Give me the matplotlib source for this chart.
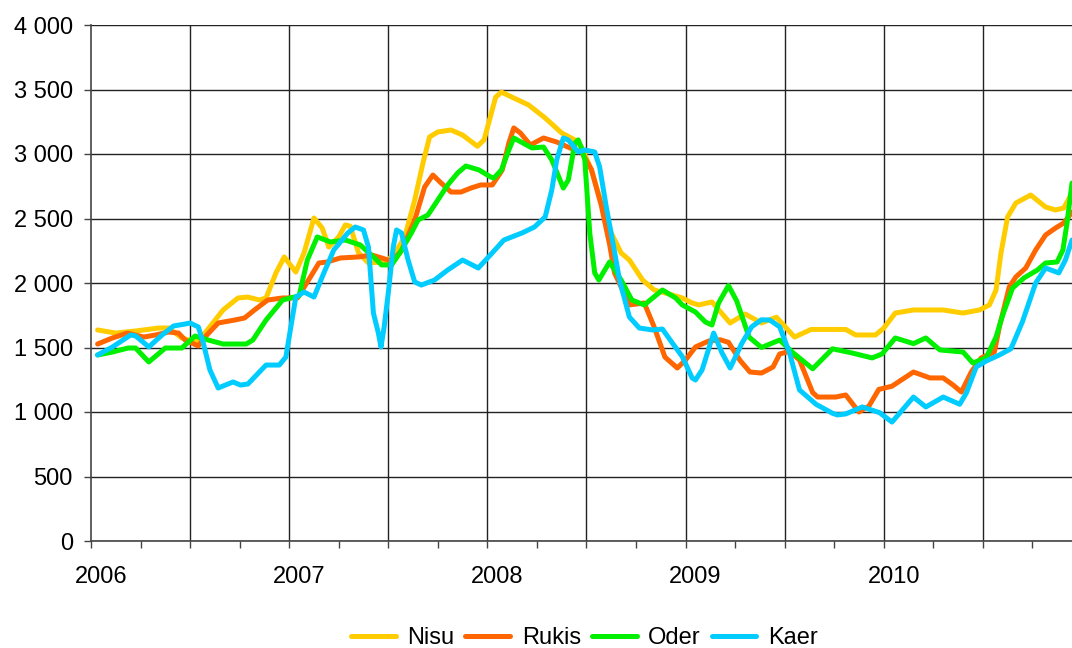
import numpy as np
import matplotlib
matplotlib.use('Agg')
from matplotlib import pyplot as plt
from matplotlib.ticker import FuncFormatter, MultipleLocator

plt.rcParams['font.family'] = ['Liberation Sans', 'DejaVu Sans']

# months since Jan 2006, price values
nisu_m = [0.4, 1.5, 2.7, 4.1, 4.7, 5.5, 6.3, 6.9, 8.0, 8.9, 9.5, 10.2, 10.6, 11.2, 11.7, 12.4,
          12.9, 13.5, 14.0, 14.4, 15.0, 15.4, 15.7, 16.2, 16.8, 17.6, 18.0, 18.4, 19.0, 19.6,
          20.1, 20.5, 21.0, 21.8, 22.5, 23.4, 23.8, 24.1, 24.5, 24.85, 25.6, 26.5, 27.5, 28.5,
          29.3, 29.7, 30.3, 30.9, 31.5, 32.1, 32.6, 33.4, 34.1, 35.2, 35.8, 36.4, 36.8, 37.6,
          38.7, 39.6, 40.6, 41.5, 42.6, 43.6, 45.7, 46.3, 47.5, 48.0, 48.7, 49.8, 51.6, 52.8,
          53.8, 54.4, 54.8, 55.1, 55.5, 56.0, 56.9, 57.8, 58.4, 58.9, 59.4]
nisu_v = [1636, 1612, 1628, 1651, 1651, 1574, 1543, 1612, 1791, 1884, 1891, 1868, 1884, 2078, 2202, 2085,
          2233, 2504, 2426, 2279, 2357, 2450, 2440, 2233, 2155, 2163, 2178, 2233, 2357, 2643,
          2930, 3132, 3171, 3186, 3147, 3060, 3110, 3250, 3440, 3480, 3434, 3380, 3279, 3163,
          3109, 3054, 2876, 2620, 2388, 2233, 2178, 2023, 1946, 1907, 1884, 1845, 1830, 1853,
          1690, 1760, 1690, 1735, 1581, 1640, 1640, 1597, 1597, 1650, 1767, 1791, 1791, 1767,
          1791, 1830, 1946, 2233, 2512, 2620, 2682, 2589, 2566, 2581, 2698]

rukis_m = [0.4, 1.3, 2.2, 3.2, 3.9, 4.7, 5.3, 5.7, 6.5, 6.9, 7.7, 8.7, 9.3, 9.9, 10.7, 11.6, 12.5,
           13.1, 13.8, 14.3, 15.1, 16.2, 17.0, 17.6, 18.2, 18.8, 19.6, 20.2, 20.7, 21.2, 21.8,
           22.4, 23.0, 23.6, 24.3, 24.9, 25.3, 25.6, 26.0, 26.6, 27.4, 28.2, 29.0, 29.7, 30.3,
           30.9, 31.4, 31.7, 32.1, 32.6, 33.5, 34.1, 34.75, 35.5, 36.0, 36.6, 37.4, 38.1, 38.6,
           39.3, 39.9, 40.6, 41.3, 41.7, 42.3, 42.9, 43.7, 44.0, 45.1, 45.7, 46.5, 47.1, 47.7,
           48.5, 49.8, 50.8, 51.6, 52.2, 52.7, 53.3, 53.9, 54.7, 55.0, 55.6, 56.0, 56.6, 57.2,
           57.8, 58.4, 58.9, 59.4]
rukis_v = [1527, 1574, 1612, 1581, 1597, 1620, 1612, 1558, 1512, 1581, 1690, 1713, 1729, 1791, 1868, 1884, 1884,
           2008, 2155, 2163, 2194, 2202, 2217, 2194, 2170, 2250, 2488, 2744, 2837, 2775, 2705,
           2705, 2736, 2760, 2760, 2876, 3085, 3202, 3163, 3070, 3124, 3093, 3047, 3016, 2880,
           2600, 2300, 2078, 1969, 1830, 1845, 1659, 1426, 1341, 1403, 1504, 1550, 1560, 1540,
           1400, 1310, 1302, 1349, 1450, 1470, 1403, 1150, 1116, 1116, 1132, 1000, 1045, 1175,
           1200, 1310, 1264, 1264, 1209, 1155, 1310, 1419, 1465, 1659, 1969, 2047, 2116, 2256,
           2372, 2426, 2465, 2550]

oder_m = [0.4, 1.3, 2.25, 2.7, 3.5, 4.5, 5.5, 6.3, 7.1, 8.0, 9.4, 9.8, 10.6, 11.6, 12.3, 12.6,
          13.1, 13.7, 14.5, 15.4, 16.3, 17.1, 17.6, 18.2, 18.7, 19.4, 19.8, 20.4, 21.0, 21.6,
          22.2, 22.7, 23.5, 24.2, 24.4, 24.85, 25.3, 25.6, 26.7, 27.4, 27.9, 28.6, 28.9, 29.3,
          29.5, 29.7, 29.9, 30.2, 30.5, 30.75, 31.4, 32.1, 32.75, 33.5, 34.6, 35.4, 35.8, 36.6,
          37.2, 37.6, 38.0, 38.6, 39.1, 39.85, 40.6, 41.7, 42.5, 43.7, 44.9, 46.1, 47.3, 47.9,
          48.7, 49.8, 50.55, 51.4, 52.8, 53.4, 54.2, 54.8, 55.2, 55.8, 56.5, 57.3, 57.8, 58.5,
          58.85, 59.1, 59.4]
oder_v = [1442, 1465, 1496, 1496, 1388, 1496, 1496, 1589, 1558, 1527, 1527, 1558, 1713, 1868, 1891, 1900,
          2178, 2357, 2318, 2333, 2295, 2202, 2140, 2140, 2233, 2388, 2488, 2527, 2643, 2760,
          2853, 2907, 2876, 2822, 2814, 2876, 3031, 3124, 3047, 3054, 2954, 2736, 2798, 3085,
          3109, 3047, 2954, 2388, 2078, 2023, 2163, 2023, 1868, 1830, 1946, 1884, 1830, 1775,
          1698, 1674, 1845, 1980, 1860, 1580, 1500, 1558, 1460, 1335, 1490, 1457, 1419, 1450,
          1574, 1530, 1574, 1481, 1465, 1380, 1420, 1581, 1750, 1961, 2040, 2100, 2155, 2163,
          2256, 2465, 2775]

kaer_m = [0.4, 1.3, 2.4, 2.7, 3.5, 4.3, 5.0, 5.7, 6.0, 6.5, 6.8, 7.2, 7.7, 8.6, 9.05, 9.5, 10.6,
          11.4, 11.8, 12.1, 12.4, 12.9, 13.5, 14.1, 14.7, 15.55, 16.0, 16.5, 16.8, 17.1, 17.4,
          17.56, 17.75, 18.0, 18.3, 18.5, 18.8, 19.2, 19.6, 20.0, 20.8, 21.6, 22.5, 23.45, 24.2,
          25.0, 26.1, 26.85, 27.5, 27.9, 28.2, 28.6, 28.9, 29.5, 29.9, 30.5, 30.8, 31.2, 31.65,
          32.0, 32.6, 33.2, 34.0, 34.6, 35.2, 35.8, 36.4, 36.6, 37.0, 37.7, 38.2, 38.7, 39.4,
          40.0, 40.6, 41.1, 41.7, 42.3, 42.9, 43.9, 44.9, 45.2, 45.7, 46.7, 47.75, 48.5, 49.8,
          50.55, 51.6, 52.6, 53.0, 53.6, 54.2, 55.0, 55.7, 56.4, 57.2, 57.8, 58.6, 59.0, 59.4]
kaer_v = [1442, 1504, 1597, 1590, 1504, 1597, 1667, 1682, 1690, 1659, 1535, 1326, 1186, 1233, 1209, 1217, 1364,
          1364, 1426, 1659, 1891, 1930, 1891, 2078, 2256, 2388, 2434, 2411, 2279, 1767, 1612,
          1504, 1659, 1922, 2279, 2411, 2388, 2178, 2008, 1984, 2023, 2101, 2178, 2116, 2220,
          2333, 2388, 2434, 2512, 2721, 2954, 3124, 3109, 3016, 3031, 3016, 2899, 2589, 2279,
          2023, 1736, 1651, 1636, 1643, 1535, 1430, 1264, 1248, 1326, 1612, 1460, 1341, 1530,
          1660, 1715, 1713, 1660, 1457, 1171, 1060, 990, 977, 985, 1039, 995, 922, 1116,
          1039, 1116, 1060, 1147, 1349, 1395, 1442, 1490, 1700, 2000, 2116, 2078, 2178, 2333]

series = [('Nisu', nisu_m, nisu_v, '#FFCC00'),
          ('Rukis', rukis_m, rukis_v, '#FF6600'),
          ('Oder', oder_m, oder_v, '#00F000'),
          ('Kaer', kaer_m, kaer_v, '#00CCFF')]
years = [2006, 2007, 2008, 2009, 2010]

fig = plt.figure(figsize=(10.72, 6.48), dpi=100)
ax = fig.add_axes((91 / 1072, 1 - 541 / 648, 1 - 91 / 1072, 516 / 648))

for name, m, v, color in series:
    ax.plot(m, v, color=color, lw=3.6, label=name, solid_capstyle='round', solid_joinstyle='round')

ax.set_xlim(0, 59.4)
ax.set_ylim(0, 4000)

# half-year grid, quarter ticks
for gx in range(6, 60, 6):
    ax.axvline(gx, color='#222222', lw=1, zorder=0)
ax.yaxis.set_major_locator(MultipleLocator(500))
ax.grid(axis='y', color='#222222', lw=1, zorder=0)
ax.set_axisbelow(True)
ax.xaxis.set_major_locator(MultipleLocator(3))
ax.set_xticklabels([])
ax.tick_params(axis='x', direction='out', length=5, width=1, color='#444444')
ax.tick_params(axis='y', direction='out', length=5, width=1, color='#444444',
               labelsize=17, pad=8)
ax.yaxis.set_major_formatter(FuncFormatter(lambda v, _: f'{int(v):,}'.replace(',', ' ')))

for side in ['top', 'right']:
    ax.spines[side].set_visible(False)
for side in ['left', 'bottom']:
    ax.spines[side].set_color('#444444')
    ax.spines[side].set_linewidth(1.2)

for i, yr in enumerate(years):
    ax.text(12 * i + 0.6, -0.069, str(yr), transform=ax.get_xaxis_transform(),
            ha='center', va='center', fontsize=17)

ax.legend(loc='center', bbox_to_anchor=(0.503, -0.188), ncol=4, frameon=False,
          fontsize=17, handlelength=1.9, handletextpad=0.5, columnspacing=0.45)

fig.savefig('out.png', dpi=100)
